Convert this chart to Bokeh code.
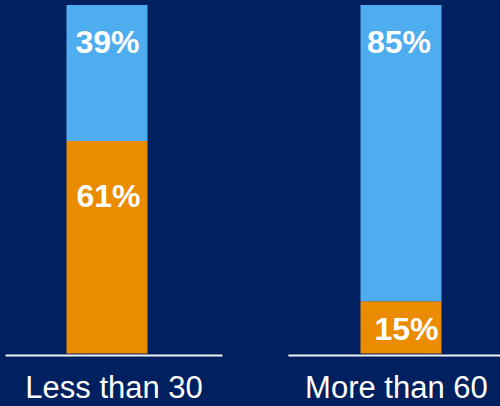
from bokeh.plotting import figure
from bokeh.models import ColumnDataSource, Range1d
from bokeh.embed import file_html
from bokeh.resources import INLINE
from bokeh.core.properties import value

# ---- data ----
categories = ["Less than 30", "More than 60"]
orange_share = [61, 15]   # bottom segment (%)
blue_share = [39, 85]     # top segment (%)

# ---- style ----
BG = "#002060"
ORANGE = "#EB8C00"
BLUE = "#4EADEF"
LINE = "#F2F2F2"
FONT = "Liberation Sans"

idx = list(range(len(categories)))
blue_top = [o + b for o, b in zip(orange_share, blue_share)]

src = ColumnDataSource(dict(x=idx, orange=orange_share, blue=blue_share))

p = figure(width=500, height=406, output_backend="svg", toolbar_location=None,
           x_range=Range1d(-0.3622, 1.3384), y_range=Range1d(-15.21, 101.29),
           x_axis_location=None, y_axis_location=None, min_border=0,
           background_fill_color=BG, border_fill_color=BG, outline_line_color=None)
p.grid.visible = False

p.vbar_stack(["orange", "blue"], x="x", width=0.2755, color=[ORANGE, BLUE],
             line_width=0, source=src)

# baseline segments under each bar (layout offsets relative to category)
line_left = [-0.345, -0.383]
line_right = [0.393, 0.352]
base_y = -0.57
x0 = [i + a for i, a in zip(idx, line_left)]
x1 = [i + b for i, b in zip(idx, line_right)]
p.segment(x0=x0, y0=[base_y] * len(idx), x1=x1, y1=[base_y] * len(idx),
          line_color=LINE, line_width=2)

TXT_SHIFT = 3.3  # renderer baseline correction (data units)

# category labels centered under their baseline segment
cat_y = -13.06 + TXT_SHIFT
p.text(x=[(a + b) / 2 for a, b in zip(x0, x1)], y=[cat_y] * len(idx), text=categories,
       text_font=value(FONT), text_font_size="31px", text_color="white",
       text_align="center", text_baseline="alphabetic")

# percentage labels
orange_gap = [19.0, 11.27]
blue_gap = [13.9, 13.9]
lab_x = idx + idx
lab_y = [t - g + TXT_SHIFT for t, g in zip(orange_share, orange_gap)] + \
        [t - g + TXT_SHIFT for t, g in zip(blue_top, blue_gap)]
lab_t = [f"{v}%" for v in orange_share] + [f"{v}%" for v in blue_share]
lab_dx = [1.5, 5.5, 0.5, -2.0]
lsrc = ColumnDataSource(dict(x=lab_x, y=lab_y, t=lab_t, dx=lab_dx))
p.text(x="x", y="y", text="t", x_offset="dx", source=lsrc,
       text_font=value(FONT), text_font_size="32px", text_font_style="bold",
       text_color="white", text_align="center", text_baseline="alphabetic")

html = file_html(p, INLINE)
html = html.replace("</head>", "<style>html,body{margin:0;padding:0;background:%s;overflow:hidden;}</style></head>" % BG, 1)
open("out.html", "w").write(html)
